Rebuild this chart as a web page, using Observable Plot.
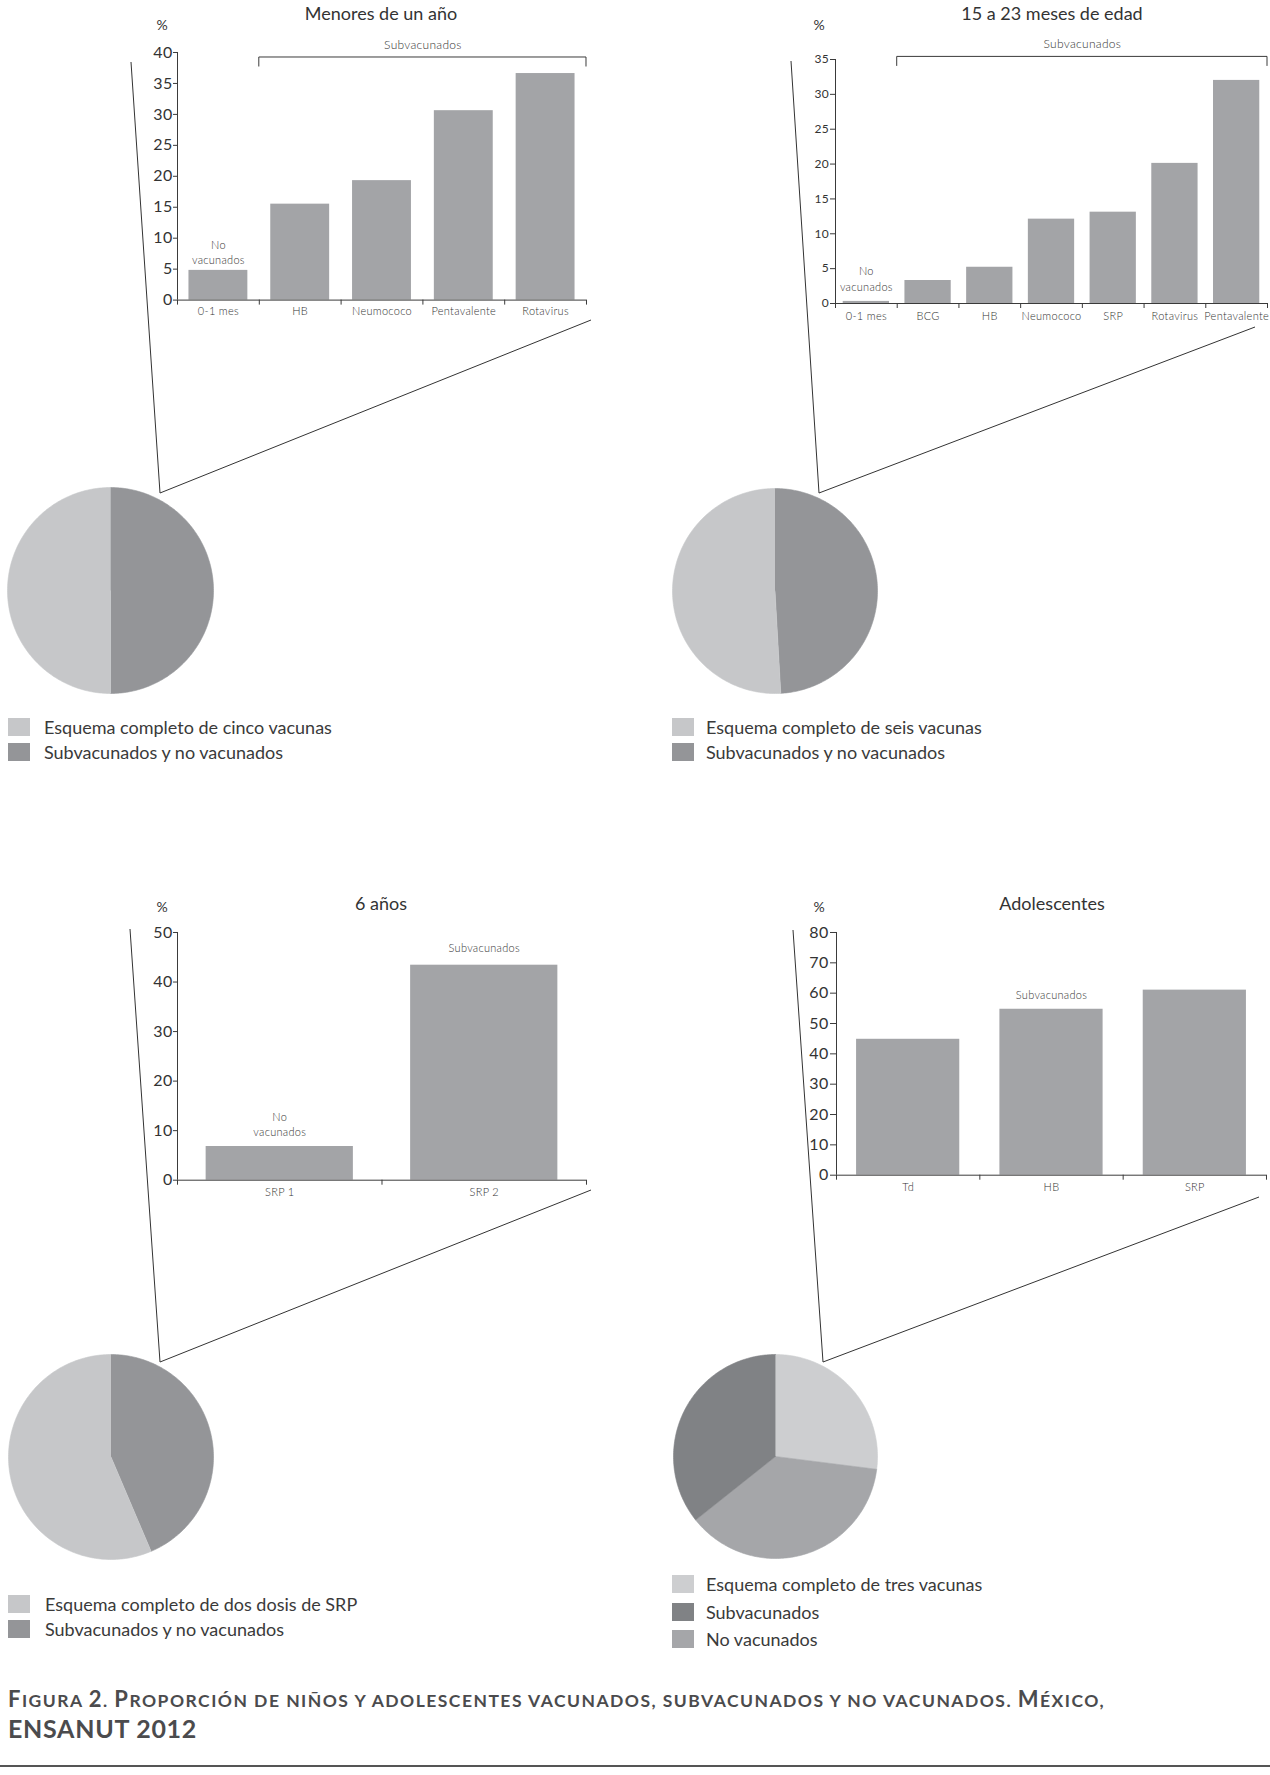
<!DOCTYPE html>
<html><head><meta charset="utf-8">
<script src="https://cdn.jsdelivr.net/npm/d3@7"></script>
<script src="https://cdn.jsdelivr.net/npm/@observablehq/plot@0.6"></script>
<style>
html,body{margin:0;padding:0;background:#fff;overflow:hidden;}
#page{position:relative;width:1270px;height:1775px;overflow:hidden;background:#fff;font-family:Lato,"Open Sans",sans-serif;color:#333;}
.title{position:absolute;transform:translate(-50%,-50%);font-size:18px;line-height:1;white-space:nowrap;color:#333;}
.pct{position:absolute;transform:translate(-50%,-50%);font-size:14px;line-height:1;color:#333;}
.leg{position:absolute;display:flex;align-items:center;font-size:18px;line-height:1;white-space:nowrap;color:#3a3a3a;transform:translateY(-50%);}
.sw{width:22px;height:18px;flex:none;}
.cap{position:absolute;left:8px;white-space:nowrap;font-weight:700;color:#4b4b4d;font-family:Lato,"Open Sans",sans-serif;}
</style></head><body><div id="page"></div><script>
// ---------- data ----------
const titles = ["Menores de un año", "15 a 23 meses de edad", "6 años", "Adolescentes"];
const cats1 = ["0-1 mes", "HB", "Neumococo", "Pentavalente", "Rotavirus"];
const vals1 = [4.8, 15.5, 19.3, 30.6, 36.6];
const cats2 = ["0-1 mes", "BCG", "HB", "Neumococo", "SRP", "Rotavirus", "Pentavalente"];
const vals2 = [0.3, 3.3, 5.2, 12.1, 13.1, 20.1, 32.0];
const cats3 = ["SRP 1", "SRP 2"];
const vals3 = [6.8, 43.4];
const cats4 = ["Td", "HB", "SRP"];
const vals4 = [44.8, 54.7, 61.0];

const pie1Labels = ["Esquema completo de cinco vacunas", "Subvacunados y no vacunados"];
const pie1Values = [50.0, 50.0];
const pie2Labels = ["Esquema completo de seis vacunas", "Subvacunados y no vacunados"];
const pie2Values = [50.9, 49.1];
const pie3Labels = ["Esquema completo de dos dosis de SRP", "Subvacunados y no vacunados"];
const pie3Values = [56.4, 43.6];
const pie4Labels = ["Esquema completo de tres vacunas", "Subvacunados", "No vacunados"];
const pie4Values = [27.0, 35.7, 37.3];

const captionLine1 = "Figura 2. Proporción de niños y adolescentes vacunados, subvacunados y no vacunados. México,";
const captionLine2 = "ENSANUT 2012";

// ---------- style ----------
const BAR = "#a3a4a7", AX = "#3a3a3a";
const C2 = ["#c6c7c9", "#949598"];
const C3 = ["#cdced0", "#808285", "#a5a6a9"];

const page = document.getElementById("page");
function put(el, left, top) {
  el.style.position = "absolute"; el.style.left = left + "px"; el.style.top = top + "px";
  page.appendChild(el); return el;
}

// connector lines (decorative)
const conn = d3.create("svg").attr("width", 1270).attr("height", 1775)
  .style("position", "absolute").style("left", 0).style("top", 0);
[[[131,62],[160,493],[591,320]],
 [[791,61],[819,493],[1255,327]],
 [[130,929],[160,1362],[591,1190]],
 [[793,930],[823,1362],[1259,1197]]].forEach(p =>
  conn.append("polyline").attr("points", p.map(q => q.join(",")).join(" "))
    .attr("fill", "none").attr("stroke", "#333").attr("stroke-width", 1));
page.appendChild(conn.node());

function barChart(cfg) {
  const {cats, vals, yMax, yStep, ax, xEnd, yTopPx, yZeroPx, inset, yFont, yTickSize, yTickPad, xPad, bracket, anns, yLS} = cfg;
  const n = cats.length;
  const mL = 70, mT = 30, mR = 3, mB = 30;
  const left = ax - mL, top = yTopPx - mT;
  const width = xEnd + mR - left, height = yZeroPx + mB - top;
  const data = cats.map((c, i) => ({c, v: vals[i], i}));
  const marks = [
    Plot.rectY(data, {x1: d => d.i + inset, x2: d => d.i + 1 - inset, y1: 0, y2: "v", fill: BAR}),
    Plot.ruleY([0], {stroke: AX}),
    Plot.ruleX([0], {y1: 0, y2: yMax, stroke: AX}),
    Plot.axisY(d3.range(0, yMax + 1e-9, yStep), {tickSize: yTickSize, tickPadding: yTickPad, fontSize: yFont, fontWeight: 400, label: null, stroke: AX, tickFormat: d => String(d), style: yLS ? {letterSpacing: yLS} : undefined}),
    Plot.axisX(d3.range(0, n + 1), {tickSize: 5, tickFormat: () => "", label: null, stroke: AX}),
    Plot.axisX(d3.range(n).map(i => i + 0.5), {tickSize: 0, tickPadding: xPad, fontSize: 11, label: null, tickFormat: d => cats[Math.floor(d)]})
  ];
  if (bracket) {
    marks.push((index, scales) => {
      const x1 = scales.x(bracket.from), x2 = scales.x(bracket.to), y = scales.y(yMax) + bracket.dy;
      return d3.create("svg:path").attr("d", `M${x1},${y + 9.5}V${y}H${x2}V${y + 9.5}`)
        .attr("fill", "none").attr("stroke", AX).attr("stroke-width", 1).node();
    });
    marks.push(Plot.text([{x: (bracket.from + bracket.to) / 2, y: yMax, t: bracket.text}],
      {x: "x", y: "y", text: "t", dy: bracket.dy - 12.7, fontSize: 12, style: {letterSpacing: "0.6px"}}));
  }
  for (const a of anns) {
    marks.push(Plot.text([{x: a.i + 0.5, y: vals[a.i], t: a.text}],
      {x: "x", y: "y", text: "t", lineAnchor: "bottom", dy: a.dy, fontSize: 11, lineHeight: a.lh || 1.35}));
  }
  const chart = Plot.plot({
    width, height, marginLeft: mL, marginRight: mR, marginTop: mT, marginBottom: mB,
    x: {domain: [0, n]}, y: {domain: [0, yMax]},
    style: {fontFamily: "Lato, 'Open Sans', sans-serif", color: "#333", background: "transparent", overflow: "visible", letterSpacing: "0.3px", fontWeight: 300},
    marks
  });
  put(chart, left, top);
}

function pieChart(values, colors, order, cx, cy, r) {
  const total = d3.sum(values);
  let a = 0;
  const marks = [];
  for (const k of order) {
    const a0 = a, a1 = a + values[k] / total * 2 * Math.PI; a = a1;
    const steps = Math.max(2, Math.ceil((a1 - a0) / (Math.PI / 180)));
    const pts = [{x: 0, y: 0}].concat(d3.range(steps + 1).map(j => {
      const t = a0 + (a1 - a0) * j / steps;
      return {x: Math.sin(t), y: Math.cos(t)};
    }));
    marks.push(Plot.line(pts, {x: "x", y: "y", fill: colors[k], stroke: colors[k], strokeWidth: 0.6}));
  }
  const chart = Plot.plot({
    width: 2 * r, height: 2 * r, margin: 0,
    x: {domain: [-1, 1], axis: null}, y: {domain: [-1, 1], axis: null},
    style: {background: "transparent", overflow: "visible"},
    marks
  });
  put(chart, cx - r, cy - r);
}

function legend(labels, colors, x, ys, textGap) {
  labels.forEach((l, i) => {
    const d = document.createElement("div");
    d.className = "leg";
    d.innerHTML = `<div class="sw" style="background:${colors[i]};margin-right:${textGap}px"></div><span>${l}</span>`;
    put(d, x, ys[i]);
  });
}

function text(cls, s, x, y) {
  const d = document.createElement("div"); d.className = cls; d.textContent = s; put(d, x, y); return d;
}

// ---------- panels ----------
barChart({cats: cats1, vals: vals1, yMax: 40, yStep: 5, ax: 177, xEnd: 586, yTopPx: 51.7, yZeroPx: 299.3,
  inset: 0.14, yFont: 16, yTickSize: 4, yTickPad: 1, xPad: 7,
  bracket: {from: 1, to: cats1.length, dy: 5, text: "Subvacunados"},
  anns: [{i: 0, text: "No\nvacunados", dy: -6, lh: 1.4}]});
barChart({cats: cats2, vals: vals2, yMax: 35, yStep: 5, ax: 834.6, xEnd: 1266.6, yTopPx: 59.3, yZeroPx: 303.3,
  inset: 0.125, yFont: 12, yTickSize: 5, yTickPad: 1.5, xPad: 9, yLS: "1.5px",
  bracket: {from: 1, to: cats2.length, dy: -2.6, text: "Subvacunados"},
  anns: [{i: 0, text: "No\nvacunados", dy: -10.5, lh: 1.45}]});
barChart({cats: cats3, vals: vals3, yMax: 50, yStep: 10, ax: 177, xEnd: 586, yTopPx: 932.3, yZeroPx: 1180,
  inset: 0.14, yFont: 16, yTickSize: 4, yTickPad: 1, xPad: 8,
  anns: [{i: 0, text: "No\nvacunados", dy: -11, lh: 1.3}, {i: 1, text: "Subvacunados", dy: -13}]});
barChart({cats: cats4, vals: vals4, yMax: 80, yStep: 10, ax: 836, xEnd: 1266, yTopPx: 932.3, yZeroPx: 1175,
  inset: 0.14, yFont: 16, yTickSize: 6, yTickPad: 2, xPad: 8,
  anns: [{i: 1, text: "Subvacunados", dy: -10}]});

text("title", titles[0], 381, 13);
text("title", titles[1], 1052, 13);
text("title", titles[2], 381, 903);
text("title", titles[3], 1052, 903);
text("pct", "%", 162, 25);
text("pct", "%", 819, 25);
text("pct", "%", 162, 907);
text("pct", "%", 819, 907);

pieChart(pie1Values, C2, [1, 0], 110, 590, 103);
pieChart(pie2Values, C2, [1, 0], 774.6, 590.5, 102.5);
pieChart(pie3Values, C2, [1, 0], 110.5, 1456.5, 102.5);
pieChart(pie4Values, C3, [0, 2, 1], 774.6, 1456.4, 102);

legend(pie1Labels, C2, 8, [726.5, 752], 14);
legend(pie2Labels, C2, 672, [726.5, 752], 12);
legend(pie3Labels, C2, 8, [1604, 1629], 15);
legend(pie4Labels, C3, 672, [1584, 1611.5, 1638.5], 12);

// caption: manual small caps (capitals full size, others as smaller capitals)
function smallCaps(str, big, small) {
  const d = document.createElement("div"); d.className = "cap";
  d.style.fontSize = big + "px"; d.style.lineHeight = big + "px";
  let html = "";
  for (const ch of str) {
    const isUpper = ch !== ch.toLowerCase() || /[0-9]/.test(ch);
    html += isUpper ? ch : `<span style="font-size:${small}px">${ch.toUpperCase()}</span>`;
  }
  d.innerHTML = html;
  return d;
}
const c1 = smallCaps(captionLine1, 22, 17.5); put(c1, 8, 1688);
const c2 = smallCaps(captionLine2, 25, 25); put(c2, 8, 1716);
function fit(el, target) {
  const w = el.getBoundingClientRect().width;
  const n = el.textContent.length;
  el.style.letterSpacing = ((target - w) / n) + "px";
}
fit(c1, 1097); fit(c2, 189);
const rule = document.createElement("div");
rule.style.cssText = "width:1270px;height:1.5px;background:#555;";
put(rule, 0, 1765);
</script></body></html>
